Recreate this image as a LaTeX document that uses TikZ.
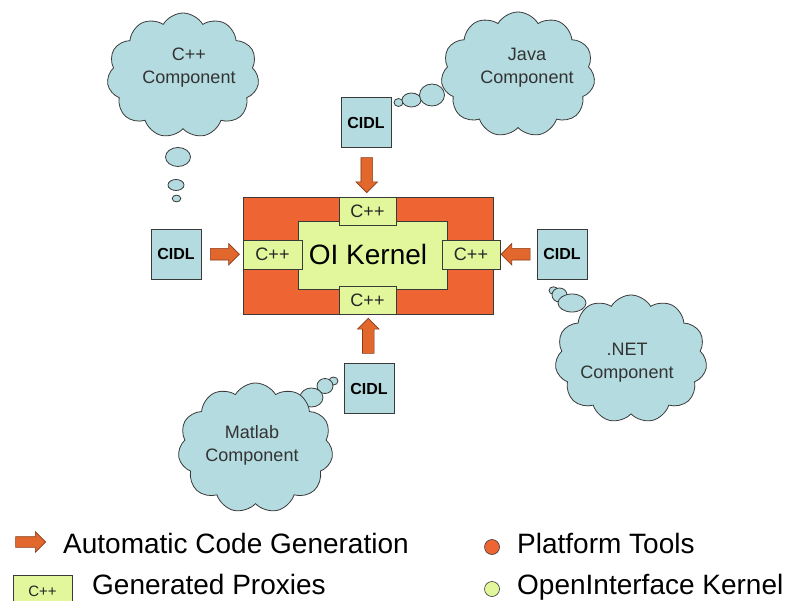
\documentclass[tikz,border=0pt]{standalone}
\usepackage{fontspec}
\setmainfont{Liberation Sans}
\usetikzlibrary{shapes.symbols,shapes.arrows,calc}
\definecolor{cloudblue}{HTML}{B4DCE0}
\definecolor{platorange}{HTML}{EF6433}
\definecolor{kgreen}{HTML}{E2F69C}
\definecolor{arroworange}{HTML}{E2672C}
\definecolor{arrowedge}{HTML}{8A3A18}
\definecolor{edgegray}{HTML}{3A3A3A}
\begin{document}
\begin{tikzpicture}[x=1pt,y=-1pt,
  cloudshape/.style={cloud, cloud puffs=11, cloud puff arc=120, aspect=1.2, fill=cloudblue, draw=edgegray, line width=0.8pt, inner sep=0pt},
  cloudtext/.style={align=center, font=\fontsize{18}{23}\selectfont, text=black!80},
  bubble/.style={fill=cloudblue, draw=edgegray, line width=0.8pt},
  cidlbox/.style={rectangle, fill=cloudblue, draw=edgegray, line width=0.8pt, minimum width=50pt, minimum height=50pt, inner sep=0pt, font=\bfseries\fontsize{16}{18}\selectfont},
  cppbox/.style={rectangle, fill=kgreen, draw=edgegray, line width=0.8pt, inner sep=0pt, font=\fontsize{18}{20}\selectfont, text=black!85},
  fatarrow/.style={single arrow, fill=arroworange, draw=arrowedge, line width=0.6pt, inner xsep=0pt, inner ysep=5.5pt, single arrow head extend=5pt, minimum height=#1},
  legendtext/.style={font=\fontsize{28}{32}\selectfont, anchor=base west, inner sep=0pt}
]
\useasboundingbox (0,0) rectangle (792,601);

% ---------- kernel ----------
\node[rectangle, fill=platorange, draw=edgegray, line width=0.8pt, minimum width=250pt, minimum height=117pt, inner sep=0pt] (kernel) at (368,255.5) {};
\node[rectangle, fill=kgreen, draw=edgegray, line width=0.8pt, minimum width=149pt, minimum height=68pt, inner sep=0pt] (kinner) at (372.5,255) {};
\node[font=\fontsize{28}{32}\selectfont, inner sep=0pt] (ktext) at (368,254.5) {OI Kernel};
\node[cppbox, minimum width=57pt, minimum height=28pt] (cppT) at (367.5,211) {C++};
\node[cppbox, minimum width=57pt, minimum height=28pt] (cppB) at (367.5,300) {C++};
\node[cppbox, minimum width=59pt, minimum height=29pt] (cppL) at (272.5,254.5) {C++};
\node[cppbox, minimum width=58pt, minimum height=29pt] (cppR) at (471,254.5) {C++};

% ---------- CIDL boxes ----------
\node[cidlbox] (cidlL) at (176,254) {CIDL};
\node[cidlbox] (cidlR) at (562,254) {CIDL};
\node[cidlbox] (cidlT) at (366,122.5) {CIDL};
\node[cidlbox] (cidlB) at (369,388.5) {CIDL};

% ---------- generation arrows ----------
\node[fatarrow=29pt] (arrL) at ($(cidlL.east)!0.5!(cppL.west)$) {};
\node[fatarrow=29pt, rotate=180] (arrR) at ($(cidlR.west)!0.5!(cppR.east)$) {};
\node[fatarrow=35pt, rotate=-90] (arrT) at ($(cidlT.south)!0.5!(cppT.north)$) {};
\node[fatarrow=35pt, rotate=90] (arrB) at ($(cidlB.north)!0.5!(cppB.south)$) {};

% ---------- C++ component ----------
\draw[bubble] (178,157) ellipse (12.5 and 9.5);
\draw[bubble] (176,185) ellipse (8 and 5.5);
\draw[bubble] (176.5,198.5) ellipse (4.3 and 3.4);
\node[cloudshape, minimum width=152pt, minimum height=125pt] (cloudCpp) at (183,75.5) {};
\node[cloudtext] (tCpp) at (189,68) {C++\\Component};

% ---------- Java component ----------
\draw[bubble] (398.5,102.5) ellipse (4.5 and 4);
\draw[bubble] (411.5,100) ellipse (9.5 and 7);
\draw[bubble] (432,95) ellipse (12.5 and 11);
\node[cloudshape, minimum width=154pt, minimum height=125pt] (cloudJava) at (518,74.5) {};
\node[cloudtext] (tJava) at (527,68) {Java\\Component};

% ---------- .NET component ----------
\draw[bubble] (553.5,290.5) ellipse (4.5 and 3.7);
\draw[bubble] (559.5,295) ellipse (7.5 and 7);
\draw[bubble] (572,303) ellipse (14 and 9);
\node[cloudshape, minimum width=152pt, minimum height=128pt] (cloudNet) at (631,359) {};
\node[cloudtext] (tNet) at (627,363) {.NET\\Component};

% ---------- Matlab component ----------
\draw[bubble] (333.5,381) ellipse (4.5 and 4);
\draw[bubble] (325,386) ellipse (8 and 7.5);
\draw[bubble] (311.5,397.5) ellipse (11.5 and 9.5);
\node[cloudshape, minimum width=155pt, minimum height=130pt] (cloudMat) at (255.5,448) {};
\node[cloudtext] (tMat) at (252,445) {Matlab\\Component};

% ---------- legend ----------
\node[fatarrow=30pt, inner ysep=5pt] (legArrow) at (28,542) {};
\node[legendtext] (legArrowT) at (63,553) {Automatic Code Generation};
\node[cppbox, minimum width=59pt, minimum height=30pt, anchor=north west] (legCpp) at (13,575) {};
\node[font=\fontsize{15}{17}\selectfont, anchor=base, inner sep=0pt, text=black!85] (legCppT) at (42.5,596) {C++};
\node[legendtext] (legCppText) at (92,594.5) {Generated Proxies};
\draw[fill=platorange, draw=edgegray, line width=0.6pt] (492,547) circle (7.5) node (legOrange) {};
\node[legendtext] (legOrangeT) at (517,553) {Platform Tools};
\draw[fill=kgreen, draw=edgegray, line width=0.6pt] (492,589) circle (7.5) node (legGreen) {};
\node[legendtext] (legGreenT) at (517,594.5) {OpenInterface Kernel};
\end{tikzpicture}
\end{document}
